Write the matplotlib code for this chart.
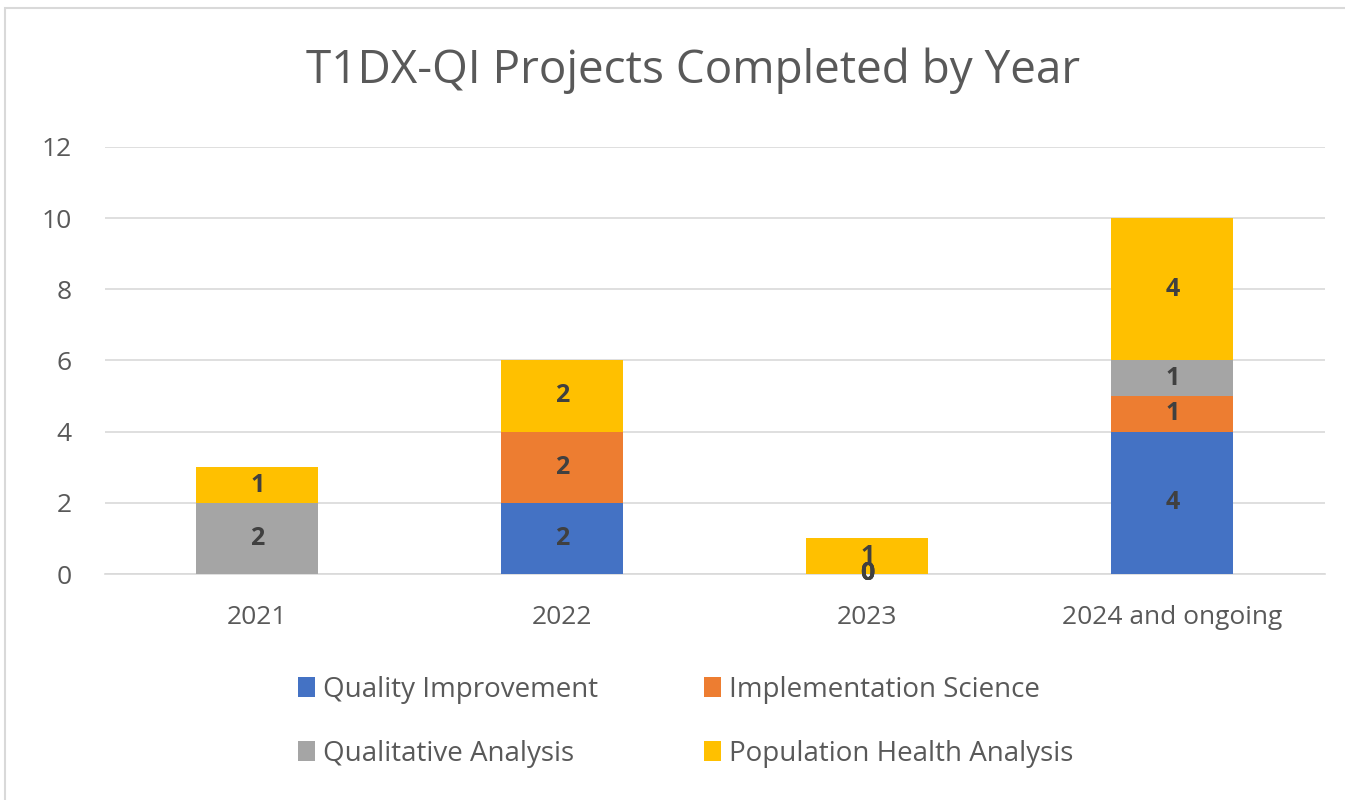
import matplotlib.pyplot as plt
import numpy as np
from matplotlib.patches import Rectangle

years = ['2021', '2022', '2023', '2024 and ongoing']
series = ['Quality Improvement', 'Implementation Science', 'Qualitative Analysis', 'Population Health Analysis']
quality_improvement = [np.nan, 2, 0, 4]
implementation_science = [np.nan, 2, 0, 1]
qualitative_analysis = [2, np.nan, 0, 1]
population_health = [1, 2, 1, 4]
colors = ['#4472C4', '#ED7D31', '#A5A5A5', '#FFC000']

plt.rcParams['font.family'] = ['Open Sans', 'DejaVu Sans']
fig = plt.figure(figsize=(13.45, 8), dpi=100)
ax = fig.add_axes([0.078, 0.2825, 0.907, 0.534])

# chart frame
fig.patches.append(Rectangle((0.004, -0.01), 1.0, 1.0, transform=fig.transFigure,
                             fill=False, edgecolor='#D9D9D9', lw=1.5))

x = np.arange(len(years))
bottom = np.zeros(len(years))
handles = []
for name, vals, c in zip(series, [quality_improvement, implementation_science, qualitative_analysis, population_health], colors):
    v = np.array(vals, dtype=float)
    h = np.nan_to_num(v)
    bars = ax.bar(x, h, 0.4, bottom=bottom, color=c, label=name, zorder=3)
    handles.append(bars)
    for i, b in enumerate(bars):
        if not np.isnan(v[i]):
            ax.text(x[i], bottom[i] + h[i] / 2, '%d' % v[i], ha='center', va='center',
                    fontsize=18, fontweight='bold', color='#404040', zorder=4)
    bottom += h

ax.set_xlim(-0.5, 3.5)
ax.set_ylim(0, 12)
ax.set_yticks(range(0, 13, 2))
ax.set_xticks(x)
ax.set_xticklabels(years)
ax.tick_params(axis='both', length=0, labelsize=19, labelcolor='#595959')
ax.tick_params(axis='y', pad=24)
ax.tick_params(axis='x', pad=22)
ax.grid(axis='y', color='#D9D9D9', lw=1.2, zorder=0)
for s in ['top', 'right', 'left']:
    ax.spines[s].set_visible(False)
ax.spines['bottom'].set_color('#D9D9D9')
ax.spines['bottom'].set_linewidth(1.2)

fig.text(0.515, 0.912, 'T1DX-QI Projects Completed by Year', ha='center', va='center',
         fontsize=33, color='#595959')

order = [0, 2, 1, 3]
leg = fig.legend([handles[i] for i in order], [series[i] for i in order],
                 loc='center', bbox_to_anchor=(0.51, 0.098), ncol=2, frameon=False,
                 fontsize=20, handlelength=0.6, handleheight=0.7, handletextpad=0.3,
                 columnspacing=3.8, labelspacing=1.3)
for t in leg.get_texts():
    t.set_color('#595959')

plt.savefig('out.png', dpi=100)
